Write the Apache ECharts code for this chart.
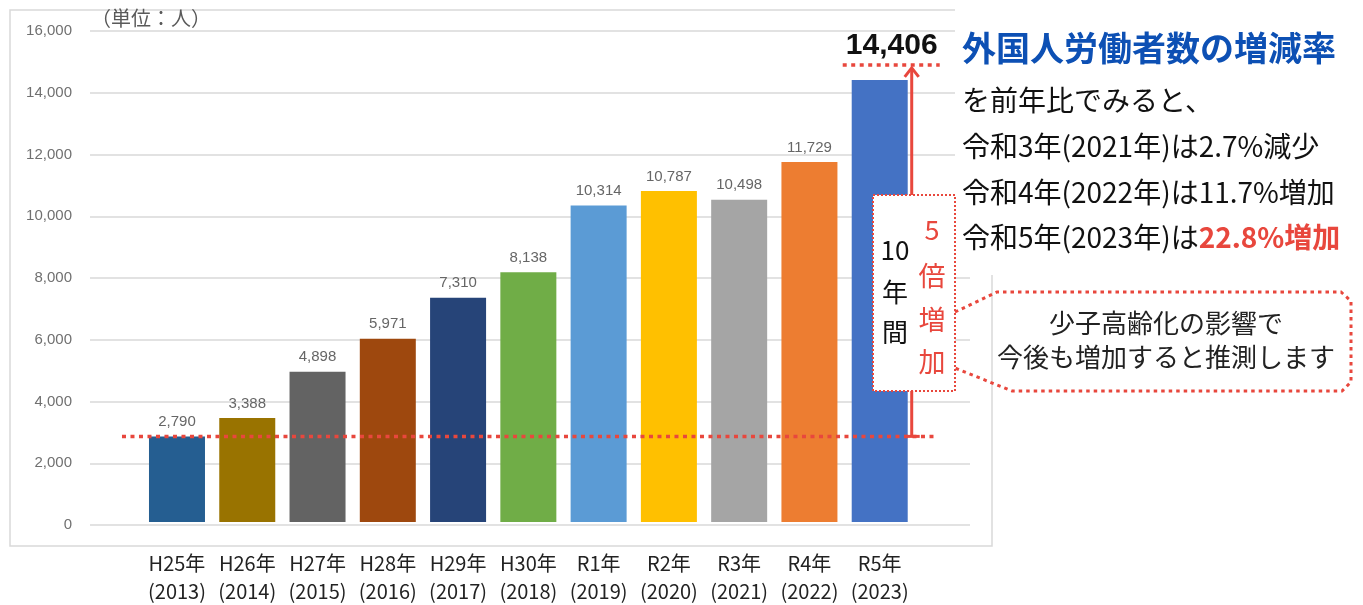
<!DOCTYPE html>
<html><head><meta charset="utf-8">
<script src="https://cdn.jsdelivr.net/npm/echarts@6/dist/echarts.min.js"></script>
<style>html,body{margin:0;padding:0;background:#fff}#c{width:1363px;height:605px}</style>
</head><body><div id="c"></div>
<script>
const eras = ['H25年','H26年','H27年','H28年','H29年','H30年','R1年','R2年','R3年','R4年','R5年'];
const years = ['(2013)','(2014)','(2015)','(2016)','(2017)','(2018)','(2019)','(2020)','(2021)','(2022)','(2023)'];
const workers = [2790, 3388, 4898, 5971, 7310, 8138, 10314, 10787, 10498, 11729, 14406];
const barColors = ['#255e91','#997300','#636363','#9e480e','#264478','#70ad47','#5b9bd5','#ffc000','#a5a5a5','#ed7d31','#4472c4'];
const unitLabel = '（単位：人）';
const titleText = '外国人労働者数の増減率';
const bodyLines = ['を前年比でみると、','令和3年(2021年)は2.7%減少','令和4年(2022年)は11.7%増加'];
const lastLineA = '令和5年(2023年)は';
const lastLineB = '22.8%増加';
const calloutLines = ['少子高齢化の影響で','今後も増加すると推測します'];

const RED = '#e8473d';
const JP = '"Noto Sans CJK JP", sans-serif';
const LAT = '"Liberation Sans", Arial, sans-serif';
const chart = echarts.init(document.getElementById('c'), null, {renderer:'canvas'});
const cats = eras.map((e,i)=> e + '\n' + years[i]);
const fmt = v => Number(v).toLocaleString('en-US');
const lastIdx = workers.length - 1;

const barData = workers.map((v,i)=>{
  const d = {value:v, itemStyle:{color:barColors[i]}};
  if (i === lastIdx) {
    d.label = {fontSize:30, fontWeight:'bold', color:'#111', distance:19, offset:[12,0], fontFamily:LAT};
  }
  return d;
});

chart.setOption({
  animation:false,
  grid:[
    {left:90, top:31, width:880, height:494},
    {left:141.85, top:31, width:773, height:494}
  ],
  xAxis:[
    {gridIndex:0, type:'category', data:[''], show:false},
    {gridIndex:1, type:'category', data:cats,
     axisLine:{show:false}, axisTick:{show:false},
     axisLabel:{interval:0, margin:27, fontSize:20, lineHeight:28, color:'#222', fontFamily:JP}}
  ],
  yAxis:[
    {gridIndex:0, type:'value', min:0, max:16000, interval:2000,
     axisLine:{show:false}, axisTick:{show:false},
     splitLine:{lineStyle:{color:'#d9d9d9', width:1.5}},
     axisLabel:{margin:18, fontSize:15, color:'#707070', fontFamily:LAT, formatter:fmt}},
    {gridIndex:1, type:'value', min:0, max:16000, interval:2000, show:false, splitLine:{show:false}}
  ],
  series:[{
    type:'bar', xAxisIndex:1, yAxisIndex:1, barWidth:56, data:barData, z:2,
    label:{show:true, position:'top', distance:7, fontSize:15, color:'#666',
      fontFamily:LAT, formatter:p=>fmt(p.value)}
  }]
});

function px(i,v){ return chart.convertToPixel({gridIndex:1}, [i, v]); }
const first = px(0, workers[0]);
const last = px(lastIdx, workers[lastIdx]);
const baseY = first[1];
const arrowX = last[0] + 32;
const tipY = last[1] - 12;

const dotted = {stroke:RED, lineWidth:3.5, lineDash:[4,4.5]};
const g = [];
g.push({type:'rect', z:0, shape:{x:10, y:10, width:982, height:536}, style:{fill:'none', stroke:'#d9d9d9', lineWidth:1.5}});
g.push({type:'rect', z:1, shape:{x:955, y:0, width:408, height:275}, style:{fill:'#fff'}});
g.push({type:'text', z:5, style:{text:unitLabel, x:91, y:18, font:'20px '+JP, fill:'#595959', textVerticalAlign:'middle'}});
g.push({type:'line', z:10, shape:{x1:first[0]-55, y1:baseY, x2:last[0]+55, y2:baseY}, style:dotted});
g.push({type:'line', z:10, shape:{x1:last[0]-37, y1:last[1]-15, x2:last[0]+60, y2:last[1]-15}, style:dotted});
g.push({type:'line', z:10, shape:{x1:arrowX, y1:baseY, x2:arrowX, y2:tipY+2}, style:{stroke:RED, lineWidth:3}});
g.push({type:'polyline', z:10, shape:{points:[[arrowX-7,tipY+9],[arrowX,tipY],[arrowX+7,tipY+9]]}, style:{stroke:RED, lineWidth:3, fill:'none'}});
g.push({type:'line', z:10, shape:{x1:arrowX-7, y1:baseY, x2:arrowX+8, y2:baseY}, style:{stroke:RED, lineWidth:3}});
g.push({type:'rect', z:11, shape:{x:873, y:195, width:82, height:196}, style:{fill:'#fff', stroke:RED, lineWidth:2, lineDash:[2,2]}});
const leftCol = ['10','年','間'], leftY=[250,292,332];
leftCol.forEach((t,i)=>g.push({type:'text', z:12, style:{text:t, x:895, y:leftY[i], font:'26px '+JP, fill:'#111', textAlign:'center', textVerticalAlign:'middle'}}));
const rightCol = ['5','倍','増','加'], rightY=[230,276,320,362];
rightCol.forEach((t,i)=>g.push({type:'text', z:12, style:{text:t, x:932, y:rightY[i], font:'27px '+JP, fill:RED, textAlign:'center', textVerticalAlign:'middle'}}));
g.push({type:'polyline', z:11, shape:{points:[[955,312],[997,292],[1341,292],[1351,301],[1351,382],[1342,391],[1012,391],[955,368]]}, style:{fill:'none', stroke:RED, lineWidth:3, lineDash:[3.5,4]}});
calloutLines.forEach((t,i)=>g.push({type:'text', z:12, style:{text:t, x:1166, y:[323,357][i], font:'26px '+JP, fill:'#222', textAlign:'center', textVerticalAlign:'middle'}}));
g.push({type:'text', z:12, style:{text:titleText, x:962, y:48, font:'bold 34px '+JP, fill:'#0d50b4', textVerticalAlign:'middle'}});
const ly=[100,146,192];
bodyLines.forEach((t,i)=>g.push({type:'text', z:12, style:{text:t, x:962, y:ly[i], font:'28px '+JP, fill:'#111', textVerticalAlign:'middle'}}));
g.push({type:'text', z:12, style:{x:962, y:237, textVerticalAlign:'middle',
  text:'{a|'+lastLineA+'}{b|'+lastLineB+'}',
  rich:{a:{fontSize:28, fontFamily:JP, fill:'#111'}, b:{fontSize:28, fontFamily:JP, fontWeight:'bold', fill:RED}}}});
chart.setOption({graphic:g});
</script></body></html>
